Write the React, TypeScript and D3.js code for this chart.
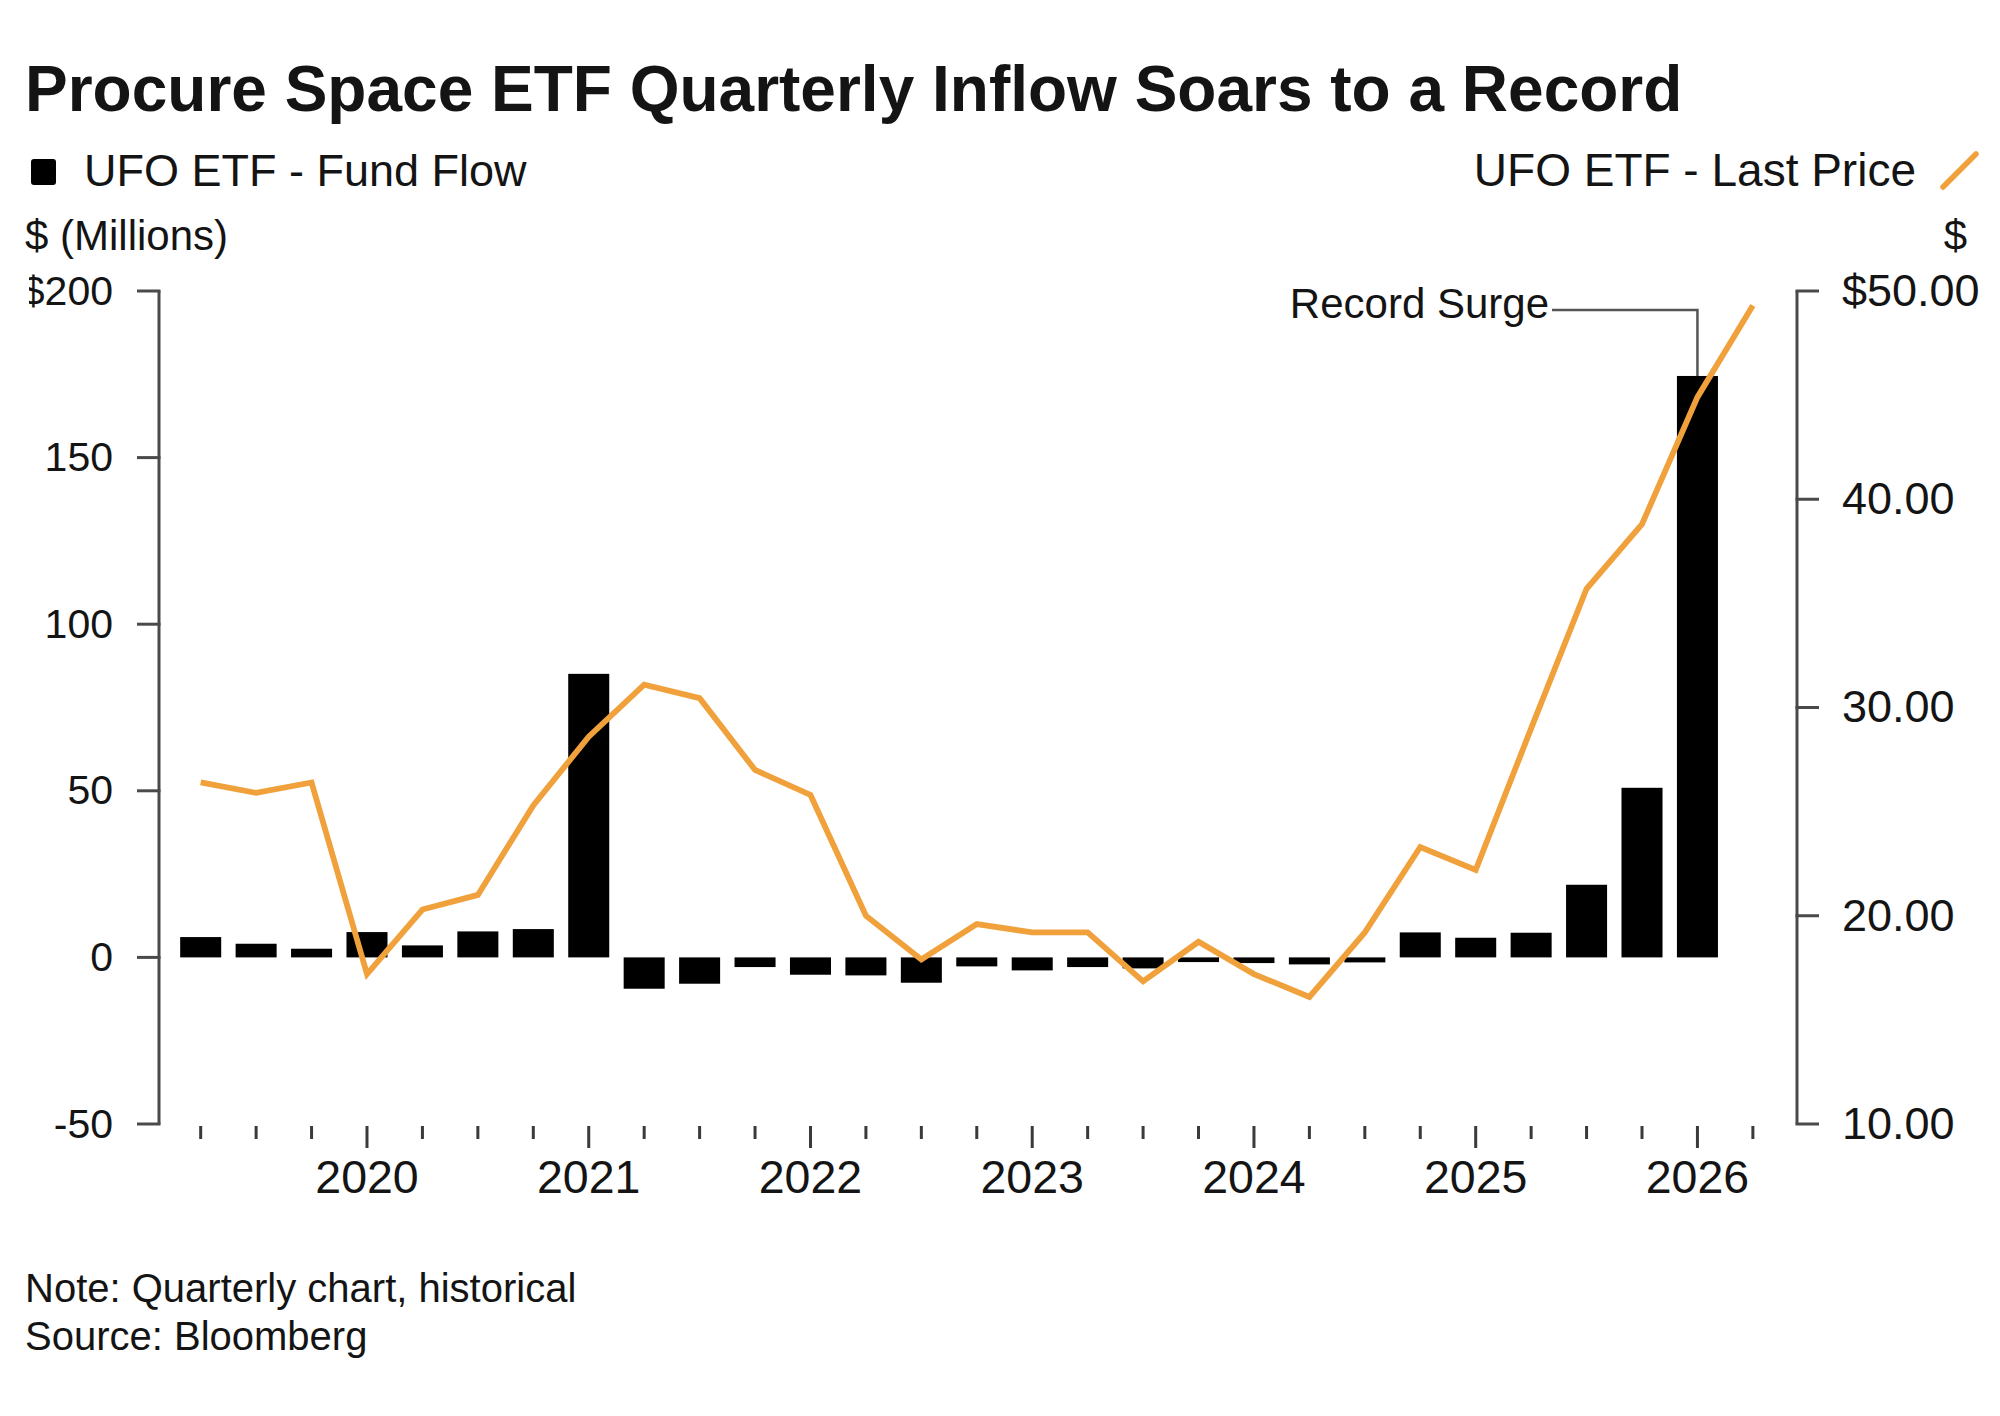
import React from 'react';
import * as d3 from 'd3';

// quarterly observations (start of quarter)
const quarters = [
  '2019-04', '2019-07', '2019-10',
  '2020-01', '2020-04', '2020-07', '2020-10',
  '2021-01', '2021-04', '2021-07', '2021-10',
  '2022-01', '2022-04', '2022-07', '2022-10',
  '2023-01', '2023-04', '2023-07', '2023-10',
  '2024-01', '2024-04', '2024-07', '2024-10',
  '2025-01', '2025-04', '2025-07', '2025-10',
  '2026-01', '2026-04',
];

// UFO ETF fund flow, $ millions (no bar for the last quarter)
const fundFlow = [
  6.1, 4.1, 2.6,
  7.6, 3.6, 7.8, 8.5,
  85.1, -9.4, -7.9, -2.9,
  -5.2, -5.4, -7.6, -2.7,
  -3.9, -2.9, -3.3, -1.4,
  -1.7, -2.1, -1.5, 7.5,
  5.9, 7.4, 21.8, 50.9,
  174.5,
];

// UFO ETF last price, $
const lastPrice = [
  26.4, 25.9, 26.4,
  17.2, 20.3, 21.0, 25.3,
  28.6, 31.1, 30.45, 27.0,
  25.8, 20.0, 17.9, 19.6,
  19.2, 19.2, 16.85, 18.75,
  17.2, 16.1, 19.2, 23.3,
  22.2, 29.0, 35.7, 38.8,
  44.9, 49.3,
];

const flowTicks = [200, 150, 100, 50, 0, -50];
const priceTicks = [50, 40, 30, 20, 10];
const yearTicks = [2020, 2021, 2022, 2023, 2024, 2025, 2026];

const FONT = '"Liberation Sans", Arial, Helvetica, sans-serif';
const ORANGE = '#f0a13b';
const INK = '#141414';
const AXIS = '#4a4a4a';

const toYear = (q: string) => {
  const [y, m] = q.split('-').map(Number);
  return y + (m - 1) / 12;
};

export default function App() {
  const W = 2000;
  const H = 1416;
  const left = 159;
  const right = 1797;
  const top = 291;
  const bottom = 1124;

  const x = d3.scaleLinear().domain([2019.062, 2026.449]).range([left, right]);
  const yFlow = d3.scaleLinear().domain([-50, 200]).range([bottom, top]);
  const yPrice = d3.scaleLinear().domain([10, 50]).range([bottom, top]);

  const qStep = x(2019.5) - x(2019.25);
  const barW = qStep * 0.74;

  const line = d3.line<number>()
    .x((_, i) => x(toYear(quarters[i])))
    .y(d => yPrice(d))
    .curve(d3.curveLinear);

  const peakIdx = fundFlow.length - 1;
  const peakX = x(toYear(quarters[peakIdx]));
  const peakY = yFlow(fundFlow[peakIdx]);

  return (
    <svg width={W} height={H} viewBox={`0 0 ${W} ${H}`}
      style={{ position: 'absolute', left: 0, top: 0, background: '#fff' }}
      fontFamily={FONT}>
      <defs>
        <clipPath id="labelClip">
          <rect x={29} y={0} width={W - 29} height={H} />
        </clipPath>
      </defs>
      <rect x={0} y={0} width={W} height={H} fill="#fff" />

      {/* title */}
      <text x={25} y={111} fontSize={64} fontWeight={700} fill={INK}>
        Procure Space ETF Quarterly Inflow Soars to a Record
      </text>

      {/* legend */}
      <rect x={31} y={159} width={25} height={26} rx={3} fill="#000" />
      <text x={84} y={186} fontSize={45} fill={INK}>UFO ETF - Fund Flow</text>
      <text x={1916} y={186} fontSize={46} fill={INK} textAnchor="end">UFO ETF - Last Price</text>
      <line x1={1943} y1={187} x2={1976} y2={154} stroke={ORANGE} strokeWidth={5.5} strokeLinecap="round" />

      {/* axis titles */}
      <text x={25} y={250} fontSize={42} fill={INK}>$ (Millions)</text>
      <text x={1967} y={250} fontSize={42} fill={INK} textAnchor="end">$</text>

      {/* left axis */}
      <line x1={left} y1={top} x2={left} y2={bottom} stroke={AXIS} strokeWidth={3} />
      <g clipPath="url(#labelClip)">
        {flowTicks.map(t => (
          <g key={`fl${t}`}>
            <line x1={left - 22} y1={yFlow(t)} x2={left + 1.5} y2={yFlow(t)} stroke={AXIS} strokeWidth={3} />
            <text x={113} y={yFlow(t)} dy="0.33em" fontSize={41} fill={INK} textAnchor="end">
              {t === 200 ? `$${t}` : `${t}`}
            </text>
          </g>
        ))}
      </g>

      {/* right axis */}
      <line x1={right} y1={top} x2={right} y2={bottom} stroke={AXIS} strokeWidth={3} />
      {priceTicks.map(t => (
        <g key={`pr${t}`}>
          <line x1={right - 1.5} y1={yPrice(t)} x2={right + 22} y2={yPrice(t)} stroke={AXIS} strokeWidth={3} />
          <text x={1842} y={yPrice(t)} dy="0.33em" fontSize={45} fill={INK}>
            {t === 50 ? `$${t.toFixed(2)}` : t.toFixed(2)}
          </text>
        </g>
      ))}

      {/* x axis ticks */}
      {quarters.map(q => {
        const v = toYear(q);
        const major = Math.abs(v - Math.round(v)) < 1e-6;
        return (
          <line key={`xt${q}`} x1={x(v)} x2={x(v)} y1={1126} y2={major ? 1148 : 1139}
            stroke="#3a3a3a" strokeWidth={3} />
        );
      })}
      {yearTicks.map(yr => (
        <text key={`yl${yr}`} x={x(yr)} y={1193} fontSize={46.5} fill={INK} textAnchor="middle">{yr}</text>
      ))}

      {/* bars */}
      {fundFlow.map((v, i) => {
        const cx = x(toYear(quarters[i]));
        const y0 = yFlow(0);
        const y1 = yFlow(v);
        return (
          <rect key={`b${i}`} x={cx - barW / 2} y={Math.min(y0, y1)} width={barW}
            height={Math.max(Math.abs(y1 - y0), 1)} fill="#000" />
        );
      })}

      {/* price line */}
      <path d={line(lastPrice) || ''} fill="none" stroke={ORANGE} strokeWidth={5.8}
        strokeLinejoin="miter" strokeLinecap="butt" />

      {/* annotation */}
      <polyline points={`1552,310 ${peakX},310 ${peakX},${peakY}`} fill="none" stroke="#555" strokeWidth={2.5} />
      <text x={1549} y={318} fontSize={42} fill={INK} textAnchor="end">Record Surge</text>

      {/* footer */}
      <text x={25} y={1302} fontSize={40} fill={INK}>Note: Quarterly chart, historical</text>
      <text x={25} y={1350} fontSize={40} fill={INK}>Source: Bloomberg</text>
    </svg>
  );
}
